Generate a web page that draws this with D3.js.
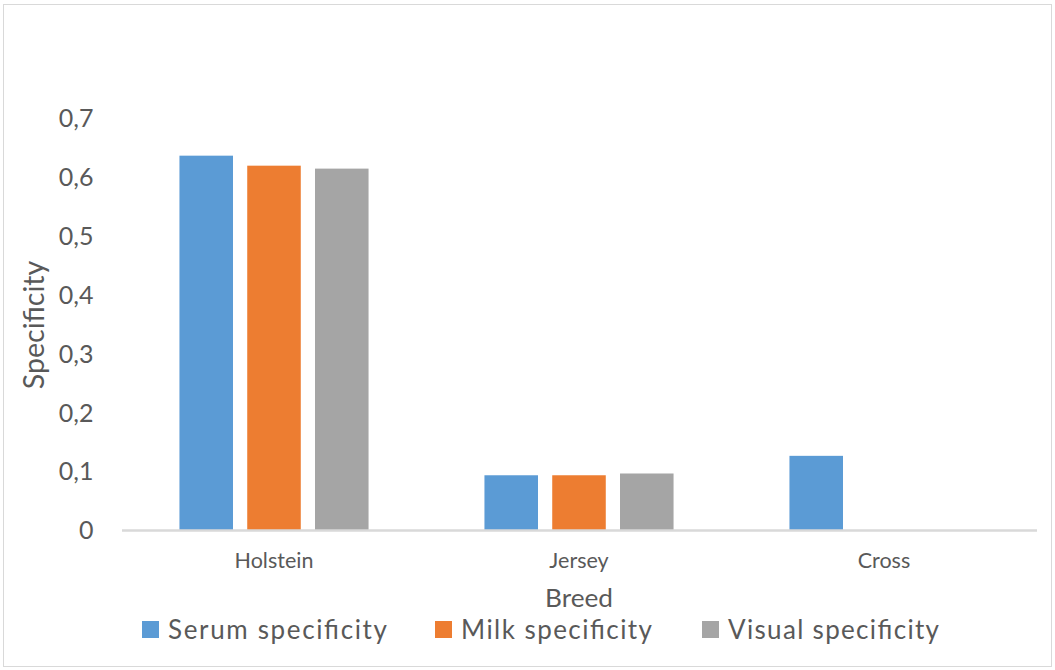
<!DOCTYPE html>
<html>
<head>
<meta charset="utf-8">
<script src="https://cdn.jsdelivr.net/npm/d3@7/dist/d3.min.js"></script>
<style>
  html, body { margin: 0; padding: 0; background: #fff; }
  svg { display: block; }
  text { font-family: Lato, "Open Sans", sans-serif; fill: #595959; }
</style>
</head>
<body>
<svg id="chart" width="1055" height="670"></svg>
<script>
// Breeds along the x axis
const breeds = ["Holstein", "Jersey", "Cross"];
// Series names and colours
const seriesNames = ["Serum specificity", "Milk specificity", "Visual specificity"];
const seriesColors = ["#5B9BD5", "#ED7D31", "#A5A5A5"];
// Specificity per breed for each series (null = no bar)
const serumValues = [0.636, 0.093, 0.126];
const milkValues = [0.619, 0.093, null];
const visualValues = [0.614, 0.096, null];
// Y axis ticks
const yTicks = [0, 0.1, 0.2, 0.3, 0.4, 0.5, 0.6, 0.7];

const seriesValues = [serumValues, milkValues, visualValues];

const svg = d3.select("#chart");
const W = 1055, H = 670;

// Outer frame
svg.append("rect")
  .attr("x", 3.5).attr("y", 4.5)
  .attr("width", W - 7).attr("height", H - 8)
  .attr("fill", "#fff").attr("stroke", "#d9d9d9").attr("stroke-width", 1);

const plot = { left: 121.5, right: 1036.5, top: 118, bottom: 530 };

const y = d3.scaleLinear().domain([0, 0.7]).range([plot.bottom, plot.top]);
const x0 = d3.scaleBand().domain(breeds).range([plot.left, plot.right]).padding(0);
const groupW = x0.bandwidth() * 0.62;
const x1 = d3.scaleBand().domain(seriesNames).range([0, groupW]).paddingInner(0.21).paddingOuter(0);

// Bars
const rows = [];
breeds.forEach((b, i) => {
  seriesNames.forEach((s, j) => {
    const v = seriesValues[j][i];
    if (v != null) rows.push({ breed: b, series: s, value: v, color: seriesColors[j] });
  });
});

svg.append("g").selectAll("rect")
  .data(rows)
  .join("rect")
  .attr("x", d => x0(d.breed) + (x0.bandwidth() - groupW) / 2 + x1(d.series))
  .attr("y", d => y(d.value))
  .attr("width", x1.bandwidth())
  .attr("height", d => y(0) - y(d.value))
  .attr("fill", d => d.color);

// Y axis (labels only)
const yAxis = d3.axisLeft(y)
  .tickValues(yTicks)
  .tickSize(0)
  .tickPadding(0)
  .tickFormat(d => d === 0 ? "0" : d3.format(".1f")(d).replace(".", ","));
const gy = svg.append("g").attr("transform", `translate(${plot.left - 28},0)`).call(yAxis);
gy.select(".domain").remove();
gy.selectAll("text")
  .style("font-family", "Lato, sans-serif")
  .attr("font-size", 25).attr("fill", "#595959").attr("dy", "0.35em");

// X axis
const xAxis = d3.axisBottom(x0).tickSize(0).tickPadding(0);
const gx = svg.append("g").attr("transform", `translate(0,${plot.bottom})`).call(xAxis);
gx.select(".domain").attr("stroke", "#d9d9d9").attr("stroke-width", 2.5);
gx.selectAll("text")
  .style("font-family", "Lato, sans-serif")
  .attr("font-size", 21.5).attr("fill", "#595959").attr("dy", 0).attr("y", 38);

// Axis titles
svg.append("text")
  .attr("x", 579).attr("y", 607)
  .attr("text-anchor", "middle")
  .attr("font-size", 25)
  .attr("textLength", 68)
  .attr("lengthAdjust", "spacingAndGlyphs")
  .text("Breed");

svg.append("text")
  .attr("transform", "translate(44,325) rotate(-90)")
  .attr("text-anchor", "middle")
  .attr("font-size", 28.5)
  .text("Specificity");

// Legend
const legendX = [142, 435, 702];
const legendW = [219, 191, 211];
const lg = svg.append("g").selectAll("g")
  .data(seriesNames)
  .join("g")
  .attr("transform", (d, i) => `translate(${legendX[i]},0)`);
lg.append("rect")
  .attr("x", 0).attr("y", 621).attr("width", 17).attr("height", 17)
  .attr("fill", (d, i) => seriesColors[i]);
lg.append("text")
  .attr("x", 26).attr("y", 639)
  .attr("font-size", 26)
  .attr("textLength", (d, i) => legendW[i])
  .attr("lengthAdjust", "spacing")
  .text(d => d);
</script>
</body>
</html>
